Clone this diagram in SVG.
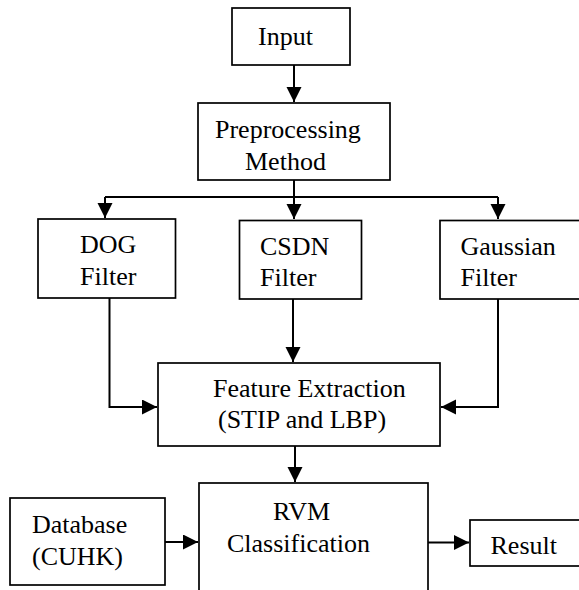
<svg xmlns="http://www.w3.org/2000/svg" width="579" height="590" viewBox="0 0 579 590">
<style>
.box{fill:#fff;stroke:#000;stroke-width:1.7}
.t{font-family:'Liberation Serif','Times New Roman','DejaVu Serif',serif;font-size:26px;fill:#000}
.c{fill:none;stroke:#000;stroke-width:2}
</style>
<defs>
<marker id="ah" markerUnits="userSpaceOnUse" markerWidth="16" markerHeight="16" refX="15" refY="7.5" orient="auto">
<path d="M0,0 L15,7.5 L0,15 z" fill="#000"/>
</marker>
</defs>
<rect width="579" height="590" fill="#fff"/>
<g id="connectors">
<path class="c" d="M294,65 V102" marker-end="url(#ah)"/>
<path class="c" d="M294,180 V197"/>
<path class="c" d="M105,197 H498"/>
<path class="c" d="M105,197 V218" marker-end="url(#ah)"/>
<path class="c" d="M294,197 V219" marker-end="url(#ah)"/>
<path class="c" d="M498,197 V219" marker-end="url(#ah)"/>
<path class="c" d="M109.5,298 V407 H157" marker-end="url(#ah)"/>
<path class="c" d="M293,299 V362" marker-end="url(#ah)"/>
<path class="c" d="M498,299 V407 H441" marker-end="url(#ah)"/>
<path class="c" d="M295,446 V482" marker-end="url(#ah)"/>
<path class="c" d="M165,542 H198" marker-end="url(#ah)"/>
<path class="c" d="M428,542.5 H469" marker-end="url(#ah)"/>
</g>
<g id="input">
<rect class="box" x="232" y="8" width="118" height="57"/>
<text class="t" font-family="Liberation Serif, serif" x="258" y="45">Input</text>
</g>
<g id="preprocessing">
<rect class="box" x="198" y="103" width="192" height="77"/>
<text class="t" x="215" y="138">Preprocessing</text>
<text class="t" x="245" y="170">Method</text>
</g>
<g id="dog">
<rect class="box" x="38" y="219" width="137.5" height="79"/>
<text class="t" x="80" y="253">DOG</text>
<text class="t" x="80" y="285">Filter</text>
</g>
<g id="csdn">
<rect class="box" x="239.5" y="220.5" width="122" height="78.5"/>
<text class="t" x="260" y="255">CSDN</text>
<text class="t" x="260" y="286">Filter</text>
</g>
<g id="gaussian">
<rect class="box" x="440" y="220.5" width="142" height="78.5"/>
<text class="t" x="460.5" y="255">Gaussian</text>
<text class="t" x="460.5" y="286">Filter</text>
</g>
<g id="feature">
<rect class="box" x="158" y="363" width="282" height="83"/>
<text class="t" x="213" y="397">Feature Extraction</text>
<text class="t" x="218" y="428">(STIP and LBP)</text>
</g>
<g id="database">
<rect class="box" x="10" y="498" width="155" height="87"/>
<text class="t" x="32" y="533">Database</text>
<text class="t" x="32" y="565">(CUHK)</text>
</g>
<g id="rvm">
<rect class="box" x="199" y="483" width="229" height="130"/>
<text class="t" x="273" y="520">RVM</text>
<text class="t" x="227" y="552">Classification</text>
</g>
<g id="result">
<rect class="box" x="470" y="520" width="112" height="46"/>
<text class="t" x="490.5" y="554">Result</text>
</g>
</svg>
